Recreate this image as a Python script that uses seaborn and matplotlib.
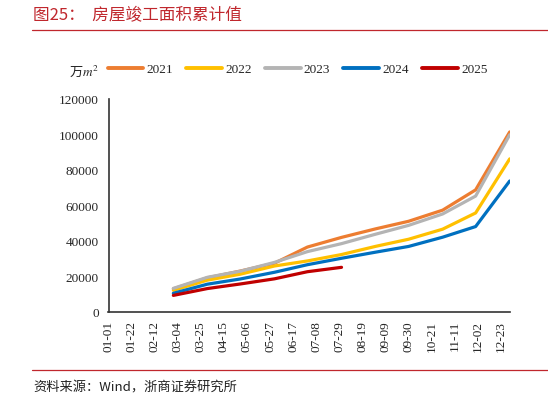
import pandas as pd
import seaborn as sns
import matplotlib.pyplot as plt
import matplotlib.dates as mdates
from matplotlib.lines import Line2D

# month-end points (cumulative, 万m2), plotted on one shared (leap) calendar year
months = ["02-29", "03-31", "04-30", "05-31", "06-30", "07-31",
          "08-31", "09-30", "10-31", "11-30", "12-31"]
y2021 = [12900, 19135, 22946, 27359, 36481, 41926, 46739, 51013, 57289, 68738, 101412]
y2022 = [12100, 17808, 21171, 25784, 28636, 32253, 36861, 40879, 46565, 55709, 86222]
y2023 = [13178, 19422, 22857, 27826, 33904, 38405, 43726, 48705, 55151, 65237, 99831]
y2024 = [10395, 15534, 18468, 22245, 26519, 30142, 33591, 36816, 42038, 48037, 73743]
y2025 = [9203, 13060, 15648, 18547, 22567, 25034]

years = ["2021", "2022", "2023", "2024", "2025"]
colors = ["#ED7D31", "#FFC000", "#B4B4B4", "#0070C0", "#C00000"]
series = [y2021, y2022, y2023, y2024, y2025]

rows = []
for yr, vals in zip(years, series):
    for m, v in zip(months, vals):
        rows.append({"date": pd.Timestamp("2024-" + m), "year": yr, "value": v})
df = pd.DataFrame(rows)

sns.set_style("white")
plt.rcParams["font.family"] = ["Liberation Serif", "Noto Sans CJK SC"]
plt.rcParams["mathtext.fontset"] = "stix"

W, H = 548, 402
fig = plt.figure(figsize=(W / 100, H / 100), dpi=100)
ax = fig.add_axes([108.5 / W, 1 - 312.7 / H, (509.7 - 108.5) / W, (312.7 - 100) / H])

sns.lineplot(data=df, x="date", y="value", hue="year", palette=dict(zip(years, colors)),
             linewidth=2.3, ax=ax, legend=False)

ax.set_xlim(pd.Timestamp("2024-01-01"), pd.Timestamp("2024-12-31"))
ax.set_ylim(0, 120000)
ax.set_yticks(range(0, 120001, 20000))
ticks = pd.date_range("2024-01-01", "2024-12-31", freq="21D")
ax.set_xticks(ticks)
ax.xaxis.set_major_formatter(mdates.DateFormatter("%m-%d"))
ax.tick_params(axis="x", rotation=90, labelsize=9.5, direction="out", length=4, width=1, color="#333333", pad=2)
ax.tick_params(axis="y", labelsize=9.5, direction="out", length=4, width=1, color="#333333", pad=3)
ax.set_xlabel("")
ax.set_ylabel("")
for s in ["top", "right"]:
    ax.spines[s].set_visible(False)
for s in ["left", "bottom"]:
    ax.spines[s].set_color("#333333")
    ax.spines[s].set_linewidth(1.2)

# legend row above the plot
handles = [Line2D([], [], color=c, lw=2.8) for c in colors]
fig.legend(handles, years, loc="center left", bbox_to_anchor=(97 / W, 1 - 70 / H),
           ncol=5, frameon=False, fontsize=9.5, handlelength=2.7, handletextpad=0.25,
           columnspacing=1.0, borderpad=0.3)
fig.text(69 / W, 1 - 71 / H, "万$m^2$", fontsize=9.5, style="italic",
         family=["Noto Sans CJK SC", "DejaVu Sans"], va="center", ha="left")

# title, rules and source
fig.text(33 / W, 1 - 16 / H, "图25：  房屋竣工面积累计值", fontsize=12, color="#C0272D",
         family=["Noto Sans CJK SC", "DejaVu Sans"], va="center", ha="left")
fig.add_artist(Line2D([32 / W, 1], [1 - 31 / H, 1 - 31 / H], color="#C0272D", lw=0.9))
fig.add_artist(Line2D([32 / W, 1], [1 - 371 / H, 1 - 371 / H], color="#C0272D", lw=0.9))
fig.text(33 / W, 1 - 388 / H, "资料来源：Wind，浙商证券研究所", fontsize=9.5, color="#222222",
         family=["Noto Sans CJK SC", "DejaVu Sans"], va="center", ha="left")

fig.savefig("out.png", dpi=100)
